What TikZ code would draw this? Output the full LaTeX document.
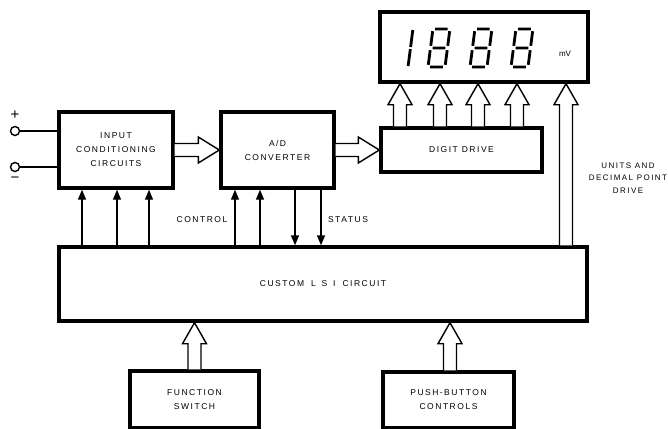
\documentclass[tikz,border=0pt]{standalone}
\usepackage{fontspec}
\newfontfamily\labfont{Liberation Sans}[LetterSpace=18]
\newfontfamily\signfont{Liberation Sans}
\usetikzlibrary{arrows.meta,calc}
\newcommand\eightat[1]{\begin{scope}[shift={(#1,67)},xslant=0.13]
\draw[seg] (2.2,-38)--(14.8,-38) (2.2,-19)--(14.8,-19) (2.2,0)--(14.8,0)
 (0,-2.2)--(0,-16.8) (0,-21.2)--(0,-35.8) (17,-2.2)--(17,-16.8) (17,-21.2)--(17,-35.8);
\end{scope}}
\newcommand\oneat[1]{\begin{scope}[shift={(#1,67)},xslant=0.13]
\draw[seg] (17,-1)--(17,-18) (17,-20)--(17,-37);
\end{scope}}
\newcommand\hup[3]{\path[hollow] let \p1=(#1,0 |- #3), \p2=(#1,0 |- #2) in
 (\x1-6.5pt,\y2) -- (\x1-6.5pt,\y1-21pt) -- (\x1-12pt,\y1-21pt) -- (\x1,\y1)
 -- (\x1+12pt,\y1-21pt) -- (\x1+6.5pt,\y1-21pt) -- (\x1+6.5pt,\y2);}
\newcommand\hright[2]{\path[hollow] let \p1=(#2), \p2=(#1) in
 (\x2,\y1+6.5pt) -- (\x1-21pt,\y1+6.5pt) -- (\x1-21pt,\y1+13pt) -- (\x1,\y1)
 -- (\x1-21pt,\y1-13pt) -- (\x1-21pt,\y1-6.5pt) -- (\x2,\y1-6.5pt);}
\begin{document}
\begin{tikzpicture}[x=1pt,y=-1pt,
  box/.style={draw, line width=3.4pt, inner sep=0pt, align=center},
  thinline/.style={line width=1.4pt},
  hollow/.style={draw, line width=1.4pt, line join=miter, fill=white},
  sig/.style={line width=1.4pt, -{Triangle[length=10pt,width=8pt]}},
  lab/.style={font=\fontsize{8.5pt}{14pt}\labfont},
  seg/.style={line width=2.8pt}
]
\useasboundingbox (0,0) rectangle (668,428);
% boxes
\node[box, minimum width=208pt, minimum height=70pt] (disp) at (484,47) {};
\node[box, lab, minimum width=114pt, minimum height=76pt] (inp) at (116,150) {INPUT\\CONDITIONING\\CIRCUITS};
\node[box, lab, minimum width=113pt, minimum height=76pt] (ad) at (277.5,150) {A\,/\,D\\CONVERTER};
\node[box, lab, minimum width=161pt, minimum height=44pt] (dd) at (461.5,150) {DIGIT DRIVE};
\node[box, lab, minimum width=528pt, minimum height=74pt] (lsi) at (323,284) {CUSTOM\hspace{3pt} L\hspace{2pt} S\hspace{2pt} I\hspace{3pt} CIRCUIT};
\node[box, lab, minimum width=129pt, minimum height=57pt] (fs) at (194.5,399.5) {FUNCTION\\SWITCH};
\node[box, lab, minimum width=131pt, minimum height=56pt] (pb) at (448.5,400) {PUSH\,-\,BUTTON\\CONTROLS};
% display digits
\oneat{391}
\eightat{428}
\eightat{470}
\eightat{511}
\node[font=\fontsize{8pt}{8pt}\signfont] (mv) at (565,54) {mV};
% input terminals
\node[circle, draw, thinline, minimum size=9pt, inner sep=0pt] (tp) at (15,131) {};
\node[circle, draw, thinline, minimum size=9pt, inner sep=0pt] (tm) at (15,167) {};
\node[font=\fontsize{15pt}{15pt}\signfont, inner sep=0pt] (plus) at (15,115) {+};
\node[font=\fontsize{15pt}{15pt}\signfont, inner sep=0pt] (minus) at (15,180) {−};
\draw[thinline] (tp) -- (tp -| inp.west);
\draw[thinline] (tm) -- (tm -| inp.west);
% hollow data arrows
\hright{inp.east}{ad.west}
\hright{ad.east}{dd.west}
\hup{400}{dd.north}{disp.south}
\hup{440}{dd.north}{disp.south}
\hup{478}{dd.north}{disp.south}
\hup{517}{dd.north}{disp.south}
\hup{566}{lsi.north}{disp.south}
\hup{194.5}{fs.north}{lsi.south}
\hup{450}{pb.north}{lsi.south}
% control and status lines
\foreach \xp in {82,117,149} {\draw[sig] (\xp,0 |- lsi.north) -- (\xp,0 |- inp.south);}
\foreach \xp in {235,260} {\draw[sig] (\xp,0 |- lsi.north) -- (\xp,0 |- ad.south);}
\foreach \xp in {295,321} {\draw[sig] (\xp,0 |- ad.south) -- (\xp,0 |- lsi.north);}
% labels
\node[lab] (ctl) at (202,220) {CONTROL};
\node[lab] (sta) at (348,220) {STATUS};
\node[font=\fontsize{8pt}{12.5pt}\labfont, align=center] (units) at (628,178) {UNITS AND\\DECIMAL POINT\\DRIVE};
\end{tikzpicture}
\end{document}
